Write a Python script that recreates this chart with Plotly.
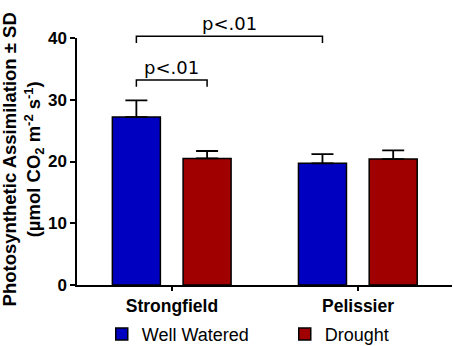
import plotly.graph_objects as go

# ---- data ----
cultivars = ["Strongfield", "Pelissier"]
well_watered = [27.2, 19.7]
well_watered_sd = [2.7, 1.5]
drought = [20.5, 20.4]
drought_sd = [1.2, 1.4]
series_names = ["Well Watered", "Drought"]
y_ticks = [0, 10, 20, 30, 40]
sig_label = "p<.01"

# ---- style ----
BLUE = "#0000c0"
RED = "#a00000"
BAR_W = 0.258
OFF_WW = -0.32
OFF_DR = 0.06
Y_MAX = 40

fig = go.Figure()
fig.add_trace(go.Bar(
    x=cultivars, y=well_watered, name=series_names[0],
    width=BAR_W, offset=OFF_WW,
    marker=dict(color=BLUE, line=dict(color="black", width=1.5)),
    error_y=dict(type="data", array=well_watered_sd, arrayminus=[0, 0],
                 symmetric=False, color="black", thickness=1.8, width=11),
))
fig.add_trace(go.Bar(
    x=cultivars, y=drought, name=series_names[1],
    width=BAR_W, offset=OFF_DR,
    marker=dict(color=RED, line=dict(color="black", width=1.5)),
    error_y=dict(type="data", array=drought_sd, arrayminus=[0, 0],
                 symmetric=False, color="black", thickness=1.8, width=11),
))

# ---- significance brackets ----
def center(idx, off):
    return idx + off + BAR_W / 2

def bracket(x0, x1, yv, leg):
    yp = yv / Y_MAX
    yl = (yv - leg) / Y_MAX
    fig.add_shape(type="path",
                  path=f"M {x0} {yl} L {x0} {yp} L {x1} {yp} L {x1} {yl}",
                  xref="x", yref="paper",
                  line=dict(color="black", width=1.5))
    fig.add_annotation(x=(x0 + x1) / 2, y=yp, xref="x", yref="paper",
                       text=sig_label, showarrow=False, yanchor="bottom",
                       font=dict(family="DejaVu Sans", size=18, color="black"))

ww_sf = center(0, OFF_WW)
dr_sf = center(0, OFF_DR)
ww_pe = center(1, OFF_WW)
bracket(ww_sf, ww_pe, 40.3, 1.1)
bracket(ww_sf, dr_sf, 33.2, 1.1)

# ---- y axis title ----
fig.add_annotation(
    x=-0.143, y=0.51, xref="paper", yref="paper", textangle=-90,
    text="<b>Photosynthetic Assimilation ± SD</b><br><b>(µmol CO<sub>2</sub> m<sup>-2</sup> s<sup>-1</sup>)</b>",
    showarrow=False, xanchor="center", yanchor="middle",
    font=dict(family="Liberation Sans", size=18.5, color="black"),
)

fig.update_layout(
    width=454, height=346,
    margin=dict(l=77, r=2, t=38, b=61, autoexpand=False),
    paper_bgcolor="white", plot_bgcolor="white",
    barmode="overlay",
    showlegend=True,
    legend=dict(orientation="h", x=0.066, y=-0.2, xanchor="left", yanchor="middle",
                entrywidth=138, entrywidthmode="pixels",
                font=dict(family="Liberation Sans", size=18, color="black"),
                bgcolor="rgba(0,0,0,0)"),
    xaxis=dict(range=[-0.51, 1.505], showline=True, linecolor="black", linewidth=1.5,
               ticks="outside", ticklen=4, tickcolor="black", tickwidth=1.5,
               showgrid=False, zeroline=False,
               tickfont=dict(family="Liberation Sans", size=17.5, color="black", weight="bold")),
    yaxis=dict(range=[0, Y_MAX], tickvals=y_ticks, showline=True, linecolor="black",
               linewidth=1.5, ticks="outside", ticklen=5, tickcolor="black", tickwidth=1.5,
               showgrid=False, zeroline=False,
               tickfont=dict(family="Liberation Sans", size=17, color="black", weight="bold")),
)

# remove the browser's default 8px page margin so the figure fills the window
fig.write_html("out.html", config={"displayModeBar": False},
               post_script="document.body.style.margin='0px';document.body.style.overflow='hidden';")
